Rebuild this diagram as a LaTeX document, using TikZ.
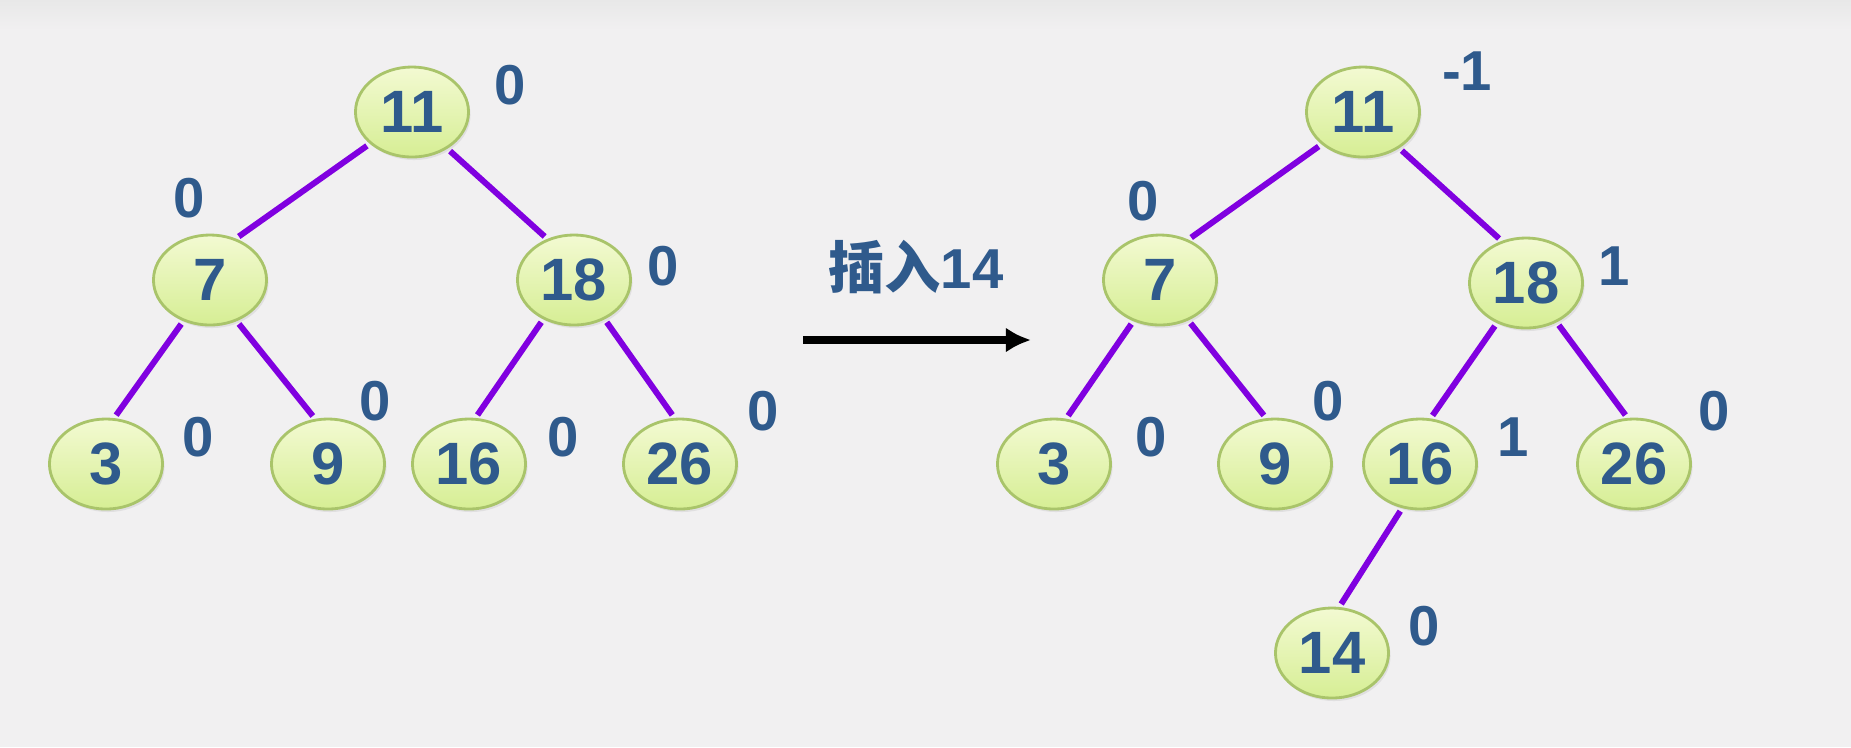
\documentclass[tikz,border=0pt]{standalone}
\usepackage{fontspec}
\setmainfont{Liberation Sans}
\newfontfamily\cjk{Noto Sans CJK SC Bold}
\usetikzlibrary{shapes.geometric,arrows.meta,shadows}
\definecolor{bgc}{HTML}{F1F0F1}
\definecolor{bgtop}{HTML}{E8E8E8}
\definecolor{txt}{HTML}{2F5A8C}
\definecolor{edgec}{HTML}{8000E0}
\definecolor{ntop}{HTML}{F3FAD2}
\definecolor{nbot}{HTML}{D6EE94}
\definecolor{nborder}{HTML}{A9C46A}
\tikzset{
  avl/.style={ellipse, minimum width=1.13cm, minimum height=0.90cm, inner sep=0pt,
    top color=ntop, bottom color=nbot, draw=nborder, line width=0.8pt,
    drop shadow={shadow xshift=0.02cm, shadow yshift=-0.03cm, opacity=0.15},
    text=txt, font=\fontsize{17}{17}\selectfont\bfseries},
  bal/.style={text=txt, font=\fontsize{16}{16}\selectfont\bfseries, inner sep=0pt},
  link/.style={draw=edgec, line width=1.7pt, shorten <=1pt, shorten >=1pt},
}
\begin{document}
\begin{tikzpicture}[x=0.01cm,y=-0.01cm]
\fill[bgc] (0,0) rectangle (1851,747);
\shade[top color=bgtop, bottom color=bgc] (0,0) rectangle (1851,30);
\useasboundingbox (0,0) rectangle (1851,747);
% left tree
\node[avl] (a11) at (412,112) {11};
\node[avl] (a7) at (210,280) {7};
\node[avl] (a18) at (574,280) {18};
\node[avl] (a3) at (106,464) {3};
\node[avl] (a9) at (328,464) {9};
\node[avl] (a16) at (469,464) {16};
\node[avl] (a26) at (680,464) {26};
\draw[link] (a11.217) -- (a7.58);
\draw[link] (a11.314) -- (a18.123);
\draw[link] (a7.237) -- (a3.80);
\draw[link] (a7.303) -- (a9.106);
\draw[link] (a18.232) -- (a16.82);
\draw[link] (a18.308) -- (a26.97);
\node[bal] (la11) at (510,85) {0};
\node[bal] (la7) at (189,198) {0};
\node[bal] (la18) at (663,266) {0};
\node[bal] (la3) at (198,437) {0};
\node[bal] (la9) at (375,401) {0};
\node[bal] (la16) at (563,437) {0};
\node[bal] (la26) at (763,411) {0};
% arrow
\coordinate (arrS) at (803,340);
\coordinate (arrE) at (1031,340);
\draw[line width=2.3pt, -{Latex[length=0.25cm,width=0.25cm]}] (arrS) -- (arrE);
\node[text=txt, inner sep=0pt, font=\fontsize{16}{16}\selectfont\bfseries] (lab) at (916,267) {{\cjk 插入}14};
% right tree
\node[avl] (b11) at (1363,112) {11};
\node[avl] (b7) at (1160,280) {7};
\node[avl] (b18) at (1526,283) {18};
\node[avl] (b3) at (1054,464) {3};
\node[avl] (b9) at (1275,464) {9};
\node[avl] (b16) at (1420,464) {16};
\node[avl] (b26) at (1634,464) {26};
\node[avl] (b14) at (1332,653) {14};
\draw[link] (b11.218) -- (b7.55);
\draw[link] (b11.315) -- (b18.120);
\draw[link] (b7.237) -- (b3.75);
\draw[link] (b7.305) -- (b9.101);
\draw[link] (b18.234) -- (b16.77);
\draw[link] (b18.308) -- (b26.98);
\draw[link] (b16.248) -- (b14.81);
\node[bal] (lb11) at (1467,71) {-1};
\node[bal] (lb7) at (1143,201) {0};
\node[bal] (lb18) at (1614,266) {1};
\node[bal] (lb3) at (1151,437) {0};
\node[bal] (lb9) at (1328,401) {0};
\node[bal] (lb16) at (1513,437) {1};
\node[bal] (lb26) at (1714,411) {0};
\node[bal] (lb14) at (1424,626) {0};
\end{tikzpicture}
\end{document}
